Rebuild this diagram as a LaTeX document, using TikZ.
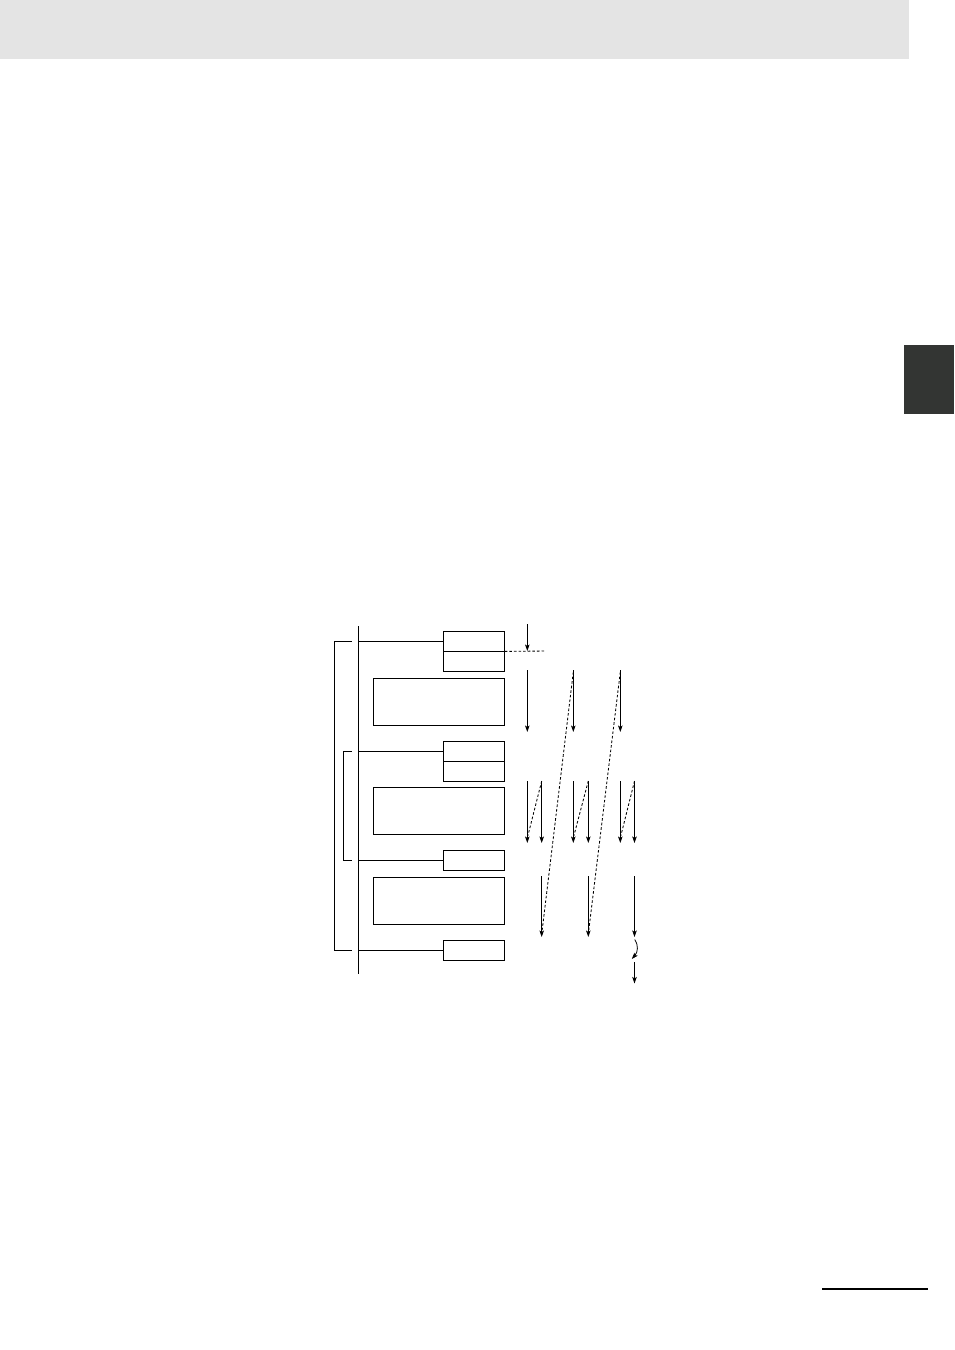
\documentclass[tikz,border=0pt]{standalone}
\usetikzlibrary{arrows.meta}
\definecolor{headgray}{HTML}{E4E4E4}
\definecolor{tabdark}{HTML}{333533}
\tikzset{
  ln/.style={line width=0.8pt, black},
  cellbox/.style={draw, line width=0.8pt, rectangle, inner sep=0pt, minimum width=61pt, minimum height=20pt},
  bigbox/.style={draw, line width=0.8pt, rectangle, inner sep=0pt, minimum width=131pt, minimum height=47pt},
  arr/.style={line width=0.8pt, -{Stealth[length=6.5pt,width=4.5pt,inset=1.5pt]}},
  dsh/.style={line width=0.85pt, dash pattern=on 2.6pt off 2pt},
}
\begin{document}
\begin{tikzpicture}[x=1pt,y=-1pt]
\useasboundingbox (0,0) rectangle (954,1350);
% page decorations
\fill[headgray] (0,0) rectangle (909,59);
\fill[tabdark] (904,345) rectangle (954,414);
\draw[line width=2pt] (822,1288.7) -- (928,1288.7);

% main vertical line
\coordinate (mtop) at (358.3,626);
\coordinate (mbot) at (358.3,974);
\draw[ln] (mtop) -- (mbot);

% brackets
\draw[ln] (351.7,641) -- (334.3,641) -- (334.3,950.3) -- (351.7,950.3);
\draw[ln] (351.7,751.3) -- (343.3,751.3) -- (343.3,860.3) -- (351.7,860.3);

% boxes
\node[cellbox] (c1a) at (473.8,641) {};
\node[cellbox] (c1b) at (473.8,661.2) {};
\node[bigbox]  (b1)  at (438.8,701.7) {};
\node[cellbox] (c2a) at (473.8,751.3) {};
\node[cellbox] (c2b) at (473.8,771.3) {};
\node[bigbox]  (b2)  at (438.8,810.8) {};
\node[cellbox] (c3)  at (473.8,860.3) {};
\node[bigbox]  (b3)  at (438.8,900.8) {};
\node[cellbox] (c4)  at (473.8,950.3) {};

% rungs from main line
\coordinate (r1) at (358.3,641);
\coordinate (r2) at (358.3,751.3);
\coordinate (r3) at (358.3,860.3);
\coordinate (r4) at (358.3,950.3);
\draw[ln] (r1) -- (c1a.west);
\draw[ln] (r2) -- (c2a.west);
\draw[ln] (r3) -- (c3.west);
\draw[ln] (r4) -- (c4.west);

% dashed line at cell divider
\coordinate (dend) at (545.7,651);
\draw[dsh] (c1a.south east) -- (dend);

% column positions
\def\xA{527.3}\def\xAA{541.7}
\def\xB{573.3}\def\xBB{588.3}
\def\xC{620.3}\def\xCC{634.5}

% first arrow
\coordinate (a0s) at (\xA,624);
\coordinate (a0e) at (\xA,651);
\draw[arr] (a0s) -- (a0e);

% row 1 arrows
\foreach \x/\n in {\xA/A,\xB/B,\xC/C}{
  \coordinate (p1\n) at (\x,670);
  \coordinate (q1\n) at (\x,732);
  \draw[arr] (p1\n) -- (q1\n);
}
% row 2 arrows
\foreach \x/\n in {\xA/A,\xAA/AA,\xB/B,\xBB/BB,\xC/C,\xCC/CC}{
  \coordinate (p2\n) at (\x,781);
  \coordinate (q2\n) at (\x,843);
  \draw[arr] (p2\n) -- (q2\n);
}
% short dashed diagonals in row 2
\draw[dsh] (p2AA) -- (527.8,836);
\draw[dsh] (p2BB) -- (573.8,836);
\draw[dsh] (p2CC) -- (620.8,836);

% row 3 arrows
\foreach \x/\n in {\xAA/AA,\xBB/BB,\xCC/CC}{
  \coordinate (p3\n) at (\x,876);
  \coordinate (q3\n) at (\x,937);
  \draw[arr] (p3\n) -- (q3\n);
}
% long dashed diagonals
\draw[dsh] (\xB,672) -- (542.2,930);
\draw[dsh] (\xC,672) -- (588.8,930);

% return curve and last arrow
\coordinate (cs) at (634.8,939.5);
\coordinate (ce) at (631.8,959);
\draw[arr] (cs) .. controls (638.5,945) and (638,952) .. (ce);
\coordinate (ls) at (634.5,962);
\coordinate (le) at (634.5,983.5);
\draw[arr] (ls) -- (le);
\end{tikzpicture}
\end{document}
